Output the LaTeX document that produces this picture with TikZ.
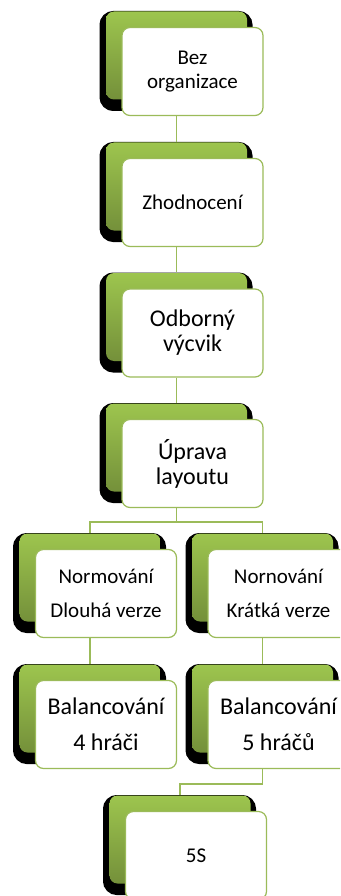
\documentclass[tikz,border=0pt]{standalone}
\usepackage{fontspec}
\setmainfont{Carlito}
\usetikzlibrary{shadows}
\definecolor{leafline}{HTML}{9BBB59}
\definecolor{leaftop}{HTML}{9DC54E}
\definecolor{leafbottom}{HTML}{74903A}
\begin{document}
\begin{tikzpicture}[x=1pt,y=1pt,
  stepbox/.style={draw=leafline,line width=1.2pt,fill=white,rounded corners=8pt,
    minimum width=141pt,minimum height=88pt,inner sep=0pt,align=center,
    general shadow={fill=black,draw=black,line width=12pt,shadow xshift=-16.5pt,shadow yshift=10.5pt},
    general shadow={top color=leaftop,bottom color=leafbottom,shadow xshift=-16pt,shadow yshift=16pt}},
  link/.style={draw=leafline,line width=1.5pt}]
  \useasboundingbox (0,0) rectangle (340,-896);
  \clip (0,0) rectangle (340,-896);
  % main column
  \node[stepbox,font=\fontsize{21}{24.5}\selectfont] (bez) at (192.5,-71.5) {Bez\\organizace};
  \node[stepbox,font=\fontsize{21}{24.5}\selectfont] (zhod) at (192.5,-202.5) {Zhodnocení};
  \node[stepbox,font=\fontsize{24}{25}\selectfont] (vycvik) at (192.5,-333) {Odborný\\výcvik};
  \node[stepbox,font=\fontsize{24}{25}\selectfont] (layout) at (192.5,-463.5) {Úprava\\layoutu};
  % two branches
  \node[stepbox,font=\fontsize{21}{34}\selectfont] (normdl) at (106,-593.5) {Normování\\Dlouhá verze};
  \node[stepbox,font=\fontsize{21}{34}\selectfont] (normkr) at (278.5,-593.5) {Nornování\\Krátká verze};
  \node[stepbox,font=\fontsize{24}{36}\selectfont] (bal4) at (106,-724.5) {Balancování\\4 hráči};
  \node[stepbox,font=\fontsize{24}{36}\selectfont] (bal5) at (278.5,-724.5) {Balancování\\5 hráčů};
  \node[stepbox,font=\fontsize{21}{24.5}\selectfont] (fives) at (196,-855.5) {5S};
  % connectors
  \draw[link] ([xshift=-16pt]bez.south) -- ([xshift=-16pt,yshift=16pt]zhod.north);
  \draw[link] ([xshift=-16pt]zhod.south) -- ([xshift=-16pt,yshift=16pt]vycvik.north);
  \draw[link] ([xshift=-16pt]vycvik.south) -- ([xshift=-16pt,yshift=16pt]layout.north);
  \coordinate (fork) at ([xshift=-16pt,yshift=-14pt]layout.south);
  \draw[link] ([xshift=-16pt]layout.south) -- (fork);
  \draw[link] (fork) -| ([xshift=-16pt,yshift=16pt]normdl.north);
  \draw[link] (fork) -| ([xshift=-16pt,yshift=16pt]normkr.north);
  \draw[link] ([xshift=-16pt]normdl.south) -- ([xshift=-16pt,yshift=16pt]bal4.north);
  \draw[link] ([xshift=-16pt]normkr.south) -- ([xshift=-16pt,yshift=16pt]bal5.north);
  \draw[link] ([xshift=-16pt]bal5.south) -- ++(0,-15) -| ([xshift=-16pt,yshift=16pt]fives.north);
\end{tikzpicture}
\end{document}
